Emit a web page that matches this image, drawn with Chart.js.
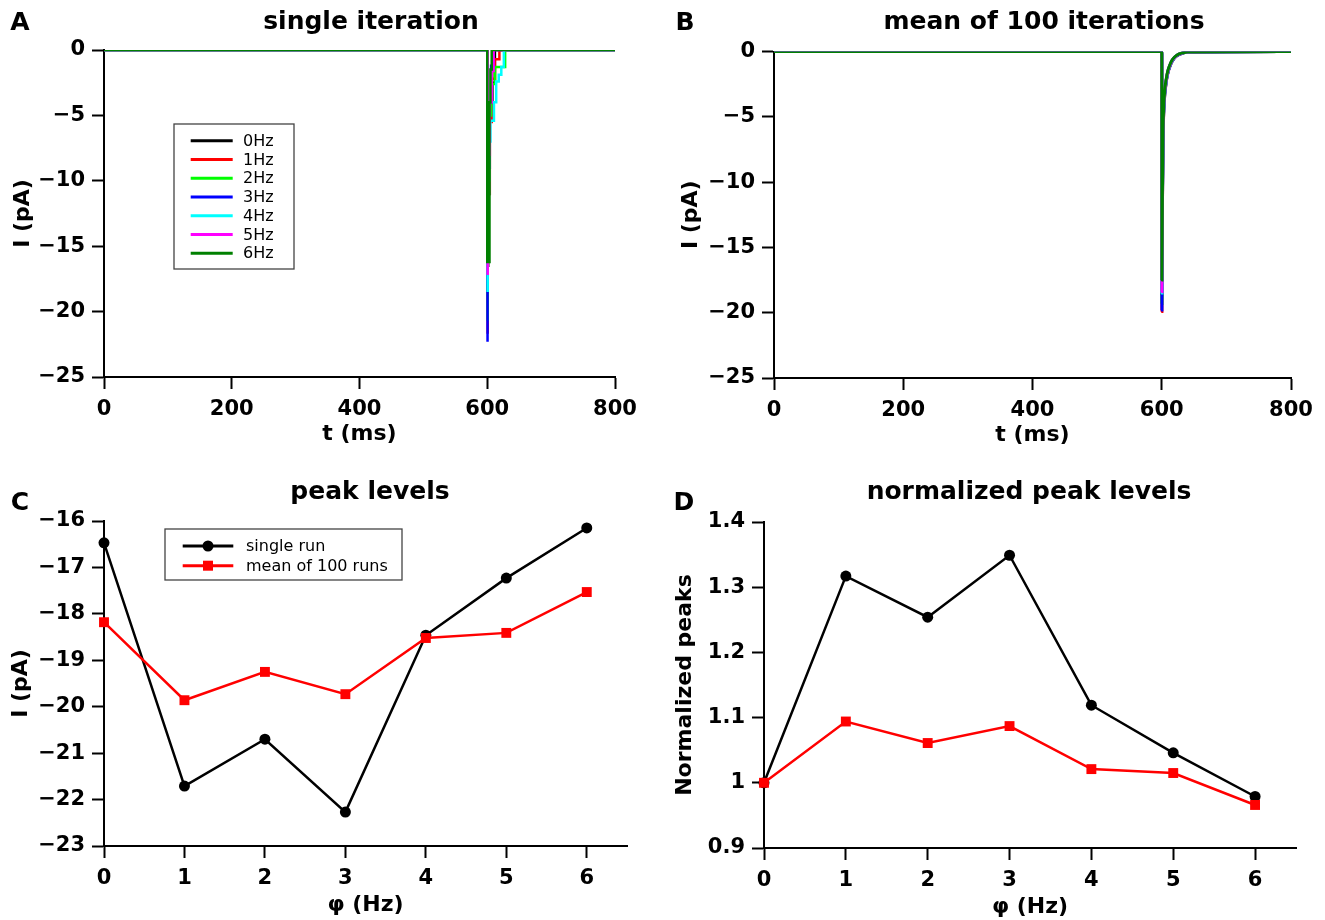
<!DOCTYPE html>
<html>
<head>
<meta charset="utf-8">
<script src="https://cdn.jsdelivr.net/npm/chart.js@4.4.1/dist/chart.umd.min.js"></script>
<style>
  html, body { margin: 0; padding: 0; background: #fff; }
  body { width: 1325px; height: 920px; position: relative; overflow: hidden; }
  canvas { position: absolute; }
</style>
</head>
<body>
<canvas id="panelA" width="662" height="460" style="left:0;top:0"></canvas>
<canvas id="panelB" width="663" height="460" style="left:662px;top:0"></canvas>
<canvas id="panelC" width="662" height="460" style="left:0;top:460px"></canvas>
<canvas id="panelD" width="663" height="460" style="left:662px;top:460px"></canvas>
<script>
// ---- data ----
const hzLabels = ['0Hz', '1Hz', '2Hz', '3Hz', '4Hz', '5Hz', '6Hz'];
const hzColors = ['#000000', '#ff0000', '#00ff00', '#0000ff', '#00ffff', '#ff00ff', '#008000'];

// A: single iteration, step-wise recovery after the pulse at 600 ms
const singleT0 = [0, 600, 600, 601.5, 601.5, 604, 604, 608, 608, 612, 612, 800];
const singleI0 = [0, 0, -16.5, -16.5, -9, -9, -5, -5, -2.5, -2.5, 0, 0];
const singleT1 = [0, 600, 600, 601, 601, 604, 604, 607, 607, 612, 612, 619, 619, 800];
const singleI1 = [0, 0, -21.7, -21.7, -11, -11, -5.5, -5.5, -2.2, -2.2, -0.7, -0.7, 0, 0];
const singleT2 = [0, 600, 600, 601, 601, 603, 603, 606, 606, 612, 612, 628, 628, 800];
const singleI2 = [0, 0, -20.7, -20.7, -10, -10, -5, -5, -2.6, -2.6, -1.3, -1.3, 0, 0];
const singleT3 = [0, 600, 600, 600.7, 600.7, 603, 603, 606, 606, 610, 610, 800];
const singleI3 = [0, 0, -22.3, -22.3, -9, -9, -4, -4, -1.2, -1.2, 0, 0];
const singleT4 = [0, 600, 600, 601, 601, 603, 603, 605, 605, 610.5, 610.5, 614, 614, 618, 618, 622, 622, 626, 626, 800];
const singleI4 = [0, 0, -18.5, -18.5, -11, -11, -7, -7, -5.4, -5.4, -4, -4, -2.4, -2.4, -1.9, -1.9, -1.3, -1.3, 0, 0];
const singleT5 = [0, 600, 600, 601, 601, 604, 604, 607, 607, 610, 610, 800];
const singleI5 = [0, 0, -17.2, -17.2, -8, -8, -4, -4, -1.6, -1.6, 0, 0];
const singleT6 = [0, 600, 600, 603.5, 603.5, 605, 605, 607, 607, 800];
const singleI6 = [0, 0, -16.2, -16.2, -4, -4, -1.5, -1.5, 0, 0];

// B: mean of 100 iterations
const meanT = [0, 600, 600.3, 601, 602, 603, 604, 605, 606, 608, 610, 612, 615, 618, 622, 627, 633, 640, 800];
const meanI0 = [0, 0, -18.2, -11.3, -6.2, -4.4, -3.5, -2.9, -2.5, -1.85, -1.42, -1.13, -0.78, -0.55, -0.35, -0.2, -0.1, -0.04, 0];
const meanI1 = [0, 0, -19.9, -12.3, -6.8, -4.8, -3.8, -3.1, -2.7, -2.0, -1.55, -1.23, -0.85, -0.6, -0.38, -0.22, -0.11, -0.04, 0];
const meanI2 = [0, 0, -19.3, -11.9, -6.6, -4.6, -3.7, -3.0, -2.6, -1.95, -1.5, -1.2, -0.83, -0.58, -0.37, -0.21, -0.11, -0.04, 0];
const meanI3 = [0, 0, -19.8, -12.2, -6.7, -4.7, -3.8, -3.1, -2.7, -2.0, -1.54, -1.22, -0.85, -0.6, -0.38, -0.22, -0.11, -0.04, 0];
const meanI4 = [0, 0, -18.5, -11.5, -6.3, -4.5, -3.6, -2.9, -2.55, -1.9, -1.45, -1.15, -0.8, -0.56, -0.36, -0.2, -0.1, -0.04, 0];
const meanI5 = [0, 0, -18.4, -11.4, -6.3, -4.4, -3.5, -2.9, -2.5, -1.88, -1.44, -1.14, -0.79, -0.55, -0.35, -0.2, -0.1, -0.04, 0];
const meanI6 = [0, 0, -17.5, -10.9, -6.0, -4.2, -3.4, -2.8, -2.4, -1.8, -1.37, -1.09, -0.75, -0.53, -0.34, -0.19, -0.1, -0.04, 0];

// C / D: peaks against phi
const phi = [0, 1, 2, 3, 4, 5, 6];
const peakSingle = [-16.47, -21.71, -20.70, -22.27, -18.46, -17.23, -16.15];
const peakMean = [-18.18, -19.86, -19.25, -19.73, -18.52, -18.41, -17.53];
const normSingle = [1, 1.317, 1.254, 1.349, 1.119, 1.046, 0.979];
const normMean = [1, 1.094, 1.061, 1.087, 1.021, 1.015, 0.966];
const runLabels = ['single run', 'mean of 100 runs'];

// tick labels
const ticksT = [0, 200, 400, 600, 800];
const ticksI = [0, -5, -10, -15, -20, -25];
const ticksPhi = [0, 1, 2, 3, 4, 5, 6];
const ticksPeak = [-16, -17, -18, -19, -20, -21, -22, -23];
const ticksNorm = [0.9, 1, 1.1, 1.2, 1.3, 1.4];

// ---- drawing ----
const FONT = 'DejaVu Sans';
Chart.defaults.color = '#000';
Chart.defaults.font.family = FONT;

const tickFont = { family: FONT, weight: 'bold', size: 21 };
const labelFont = { family: FONT, weight: 'bold', size: 22, lineHeight: 1 };
const minus = v => String(v).replace('-', '\u2212');

function axis(vals, min, max, size, title, titlePad, horizontal) {
  return {
    type: 'linear',
    min: min,
    max: max,
    afterBuildTicks: s => { s.ticks = vals.map(v => ({ value: v })); },
    afterFit: s => { if (horizontal) s.height = size; else s.width = size; },
    grid: { drawOnChartArea: false, drawTicks: true, tickLength: 12, tickWidth: 2, tickColor: '#000' },
    border: { display: true, color: '#000', width: 2 },
    ticks: {
      font: tickFont, padding: horizontal ? 8 : 7, maxRotation: 0, autoSkip: false,
      callback: v => minus(Number(v.toFixed(2)))
    },
    title: {
      display: true, text: title, font: labelFont,
      padding: horizontal ? { top: 0, bottom: titlePad } : { top: titlePad, bottom: 0 }
    }
  };
}

function decoPlugin(offX, offY, letter, letterPos, title, titlePos, legend) {
  return {
    id: 'deco',
    afterDraw(chart) {
      const ctx = chart.ctx;
      ctx.save();
      ctx.fillStyle = '#000';
      ctx.textBaseline = 'middle';
      ctx.textAlign = 'center';
      ctx.font = 'bold 25px ' + FONT;
      ctx.fillText(letter, letterPos[0] - offX, letterPos[1] - offY);
      ctx.fillText(title, titlePos[0] - offX, titlePos[1] - offY);
      if (legend) {
        const b = legend.box;
        ctx.fillStyle = '#fff';
        ctx.fillRect(b[0] - offX, b[1] - offY, b[2] - b[0], b[3] - b[1]);
        ctx.strokeStyle = '#444';
        ctx.lineWidth = 1.3;
        ctx.strokeRect(b[0] - offX, b[1] - offY, b[2] - b[0], b[3] - b[1]);
        ctx.font = '16px ' + FONT;
        ctx.textAlign = 'left';
        chart.data.datasets.forEach((ds, i) => {
          const y = legend.y0 + i * legend.dy - offY;
          ctx.strokeStyle = ds.borderColor;
          ctx.lineWidth = 3;
          ctx.beginPath();
          ctx.moveTo(legend.x0 - offX, y);
          ctx.lineTo(legend.x1 - offX, y);
          ctx.stroke();
          if (ds.pointRadius) {
            const mx = (legend.x0 + legend.x1) / 2 - offX;
            ctx.fillStyle = ds.borderColor;
            ctx.beginPath();
            if (ds.pointStyle === 'rect') {
              ctx.rect(mx - 5, y - 5, 10, 10);
            } else {
              ctx.arc(mx, y, 5.5, 0, Math.PI * 2);
            }
            ctx.fill();
          }
          ctx.fillStyle = '#000';
          ctx.fillText(ds.label, legend.tx - offX, y + 1);
        });
      }
      ctx.restore();
    }
  };
}

const baseOptions = {
  responsive: false,
  animation: false,
  events: [],
  plugins: { legend: { display: false }, tooltip: { enabled: false } }
};

function pairs(xs, ys) { return xs.map((x, i) => ({ x: x, y: ys[i] })); }

// Panel A
const singleTs = [singleT0, singleT1, singleT2, singleT3, singleT4, singleT5, singleT6];
const singleIs = [singleI0, singleI1, singleI2, singleI3, singleI4, singleI5, singleI6];
new Chart(document.getElementById('panelA'), {
  type: 'line',
  data: {
    datasets: hzLabels.map((lab, i) => ({
      label: lab,
      data: pairs(singleTs[i], singleIs[i]),
      borderColor: hzColors[i],
      borderWidth: 2.5,
      pointRadius: 0,
      tension: 0,
      order: hzLabels.length - 1 - i
    }))
  },
  options: Object.assign({}, baseOptions, {
    layout: { padding: { left: 0, top: 50, right: 47, bottom: 0 } },
    scales: {
      x: axis(ticksT, 0, 800, 83, 't (ms)', 15, true),
      y: axis(ticksI, -25, 0, 104, 'I (pA)', 12, false)
    }
  }),
  plugins: [decoPlugin(0, 0, 'A', [20, 23], 'single iteration', [371, 22],
    { box: [174, 124, 294, 269], y0: 140.7, dy: 18.77, x0: 190.7, x1: 232.7, tx: 243 })]
});

// Panel B
const meanIs = [meanI0, meanI1, meanI2, meanI3, meanI4, meanI5, meanI6];
new Chart(document.getElementById('panelB'), {
  type: 'line',
  data: {
    datasets: hzLabels.map((lab, i) => ({
      label: lab,
      data: pairs(meanT, meanIs[i]),
      borderColor: hzColors[i],
      borderWidth: 3,
      pointRadius: 0,
      cubicInterpolationMode: 'monotone',
      order: hzLabels.length - 1 - i
    }))
  },
  options: Object.assign({}, baseOptions, {
    layout: { padding: { left: 0, top: 51.5, right: 34, bottom: 0 } },
    scales: {
      x: axis(ticksT, 0, 800, 82, 't (ms)', 14, true),
      y: axis(ticksI, -25, 0, 112, 'I (pA)', 18, false)
    }
  }),
  plugins: [decoPlugin(662, 0, 'B', [685, 23], 'mean of 100 iterations', [1044, 22], null)]
});

function runDatasets(single, mean) {
  return [
    { label: runLabels[0], data: pairs(phi, single), borderColor: '#000', backgroundColor: '#000',
      borderWidth: 2.5, pointStyle: 'circle', pointRadius: 5.5, pointBorderWidth: 0, tension: 0, clip: false, order: 1 },
    { label: runLabels[1], data: pairs(phi, mean), borderColor: '#ff0000', backgroundColor: '#ff0000',
      borderWidth: 2.5, pointStyle: 'rect', pointRadius: 7, pointBorderWidth: 0, tension: 0, clip: false, order: 0 }
  ];
}

// Panel C
new Chart(document.getElementById('panelC'), {
  type: 'line',
  data: { datasets: runDatasets(peakSingle, peakMean) },
  options: Object.assign({}, baseOptions, {
    layout: { padding: { left: 0, top: 61, right: 35, bottom: 0 } },
    scales: {
      x: axis(ticksPhi, 0, 6.5, 74, '\u03c6 (Hz)', 4, true),
      y: axis(ticksPeak, -23, -16, 104, 'I (pA)', 10, false)
    }
  }),
  plugins: [decoPlugin(0, 460, 'C', [20, 503], 'peak levels', [370, 492],
    { box: [165, 529, 402, 580], y0: 546, dy: 19.7, x0: 182.7, x1: 233.3, tx: 246 })]
});

// Panel D
new Chart(document.getElementById('panelD'), {
  type: 'line',
  data: { datasets: runDatasets(normSingle, normMean) },
  options: Object.assign({}, baseOptions, {
    layout: { padding: { left: 0, top: 62, right: 29, bottom: 0 } },
    scales: {
      x: axis(ticksPhi, 0, 6.5, 72, '\u03c6 (Hz)', 2, true),
      y: axis(ticksNorm, 0.9, 1.4, 102, 'Normalized peaks', 12, false)
    }
  }),
  plugins: [decoPlugin(662, 460, 'D', [684, 503], 'normalized peak levels', [1029, 492], null)]
});
</script>
</body>
</html>
